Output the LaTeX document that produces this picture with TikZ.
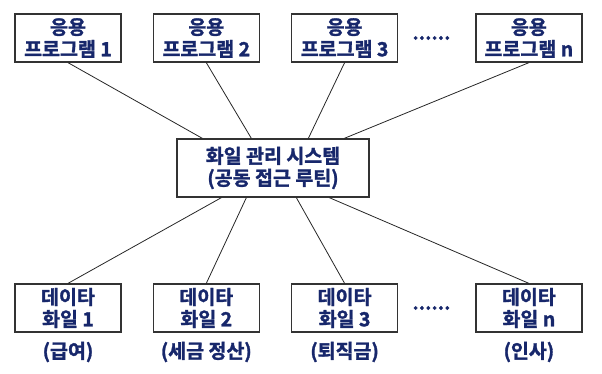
\documentclass[tikz,border=0pt]{standalone}
\usepackage{fontspec}
\newfontfamily\krfont{Noto Sans CJK KR}[BoldFont={Noto Sans CJK KR Bold}, BoldFeatures={FakeBold=1.5}]
\usepackage{xcolor}
\usetikzlibrary{positioning}
\definecolor{navy}{HTML}{17276B}

\begin{document}
\begin{tikzpicture}[
  x=1pt, y=1pt,
  node distance=31pt,
  txt/.style={font=\krfont\bfseries\fontsize{19.5}{22}\selectfont, text=navy},
  box/.style={txt, rectangle, draw=black!80, line width=1.3pt, align=center, minimum width=106pt, minimum height=48pt, inner sep=0pt},
  bigbox/.style={box, minimum width=192pt, minimum height=58pt},
  link/.style={draw=black!85, line width=0.8pt},
  dots/.style={txt, inner sep=0pt},
  note/.style={txt, inner sep=0pt}
]
\useasboundingbox (0,0) rectangle (602,-373);

% application programs
\node[box] (app1) at (68,-38) {응용\\프로그램 1};
\node[box, right=of app1] (app2) {응용\\프로그램 2};
\node[box, right=of app2] (app3) {응용\\프로그램 3};
\node[box, right=77pt of app3] (appn) {응용\\프로그램 n};
\node[dots, right=14pt of app3] (dotsA) {......};

% file system
\node[bigbox] (fs) at (273,-168) {화일 관리 시스템\\(공동 접근 루틴)};

% data files
\node[box] (dat1) at (68,-308) {데이타\\화일 1};
\node[box, right=of dat1] (dat2) {데이타\\화일 2};
\node[box, right=of dat2] (dat3) {데이타\\화일 3};
\node[box, right=77pt of dat3] (datn) {데이타\\화일 n};
\node[dots, right=14pt of dat3] (dotsB) {......};

\node[note, below=9pt of dat1] (lab1) {(급여)};
\node[note, below=9pt of dat2] (lab2) {(세금 정산)};
\node[note, below=9pt of dat3] (lab3) {(퇴직금)};
\node[note, below=9pt of datn] (labn) {(인사)};

\draw[link] (app1.south) -- ([xshift=26pt]fs.north west);
\draw[link] (app2.south) -- ([xshift=75pt]fs.north west);
\draw[link] (app3.south) -- ([xshift=132pt]fs.north west);
\draw[link] (appn.south) -- ([xshift=168pt]fs.north west);

\draw[link] ([xshift=45pt]fs.south west) -- (dat1.north);
\draw[link] ([xshift=70pt]fs.south west) -- (dat2.north);
\draw[link] ([xshift=120pt]fs.south west) -- (dat3.north);
\draw[link] ([xshift=153pt]fs.south west) -- (datn.north);
\end{tikzpicture}
\end{document}
